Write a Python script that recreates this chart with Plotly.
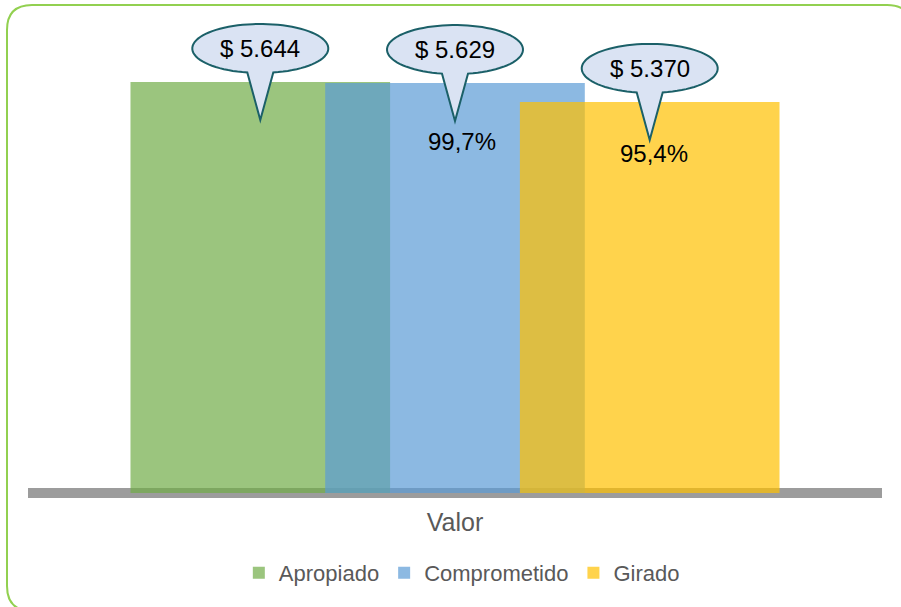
import numpy as np
import plotly.graph_objects as go

# ---- data ----
series = ["Apropiado", "Comprometido", "Girado"]
category = ["Valor"]
values = [5644, 5629, 5370]
pct_labels = [None, "99,7%", "95,4%"]

# ---- styles ----
colors = ["rgba(112,173,71,0.7)", "rgba(91,155,213,0.7)", "rgba(255,192,0,0.7)"]
bar_width = 0.304
centers = [-0.228, 0.0, 0.228]
bubble_fill = "#DAE3F3"
bubble_line = "#1B6068"
pct_shift = [(0, 0), (7, -58), (4, -52)]

FONT = "Liberation Sans, Arial, sans-serif"


def fmt_money(v):
    return "$ " + f"{v:,.0f}".replace(",", ".")


fig = go.Figure()
for name, val, col, c in zip(series, values, colors, centers):
    fig.add_trace(go.Bar(
        x=category, y=[val], name=name,
        width=bar_width, offset=c - bar_width / 2,
        marker=dict(color=col, line=dict(width=0)),
        hoverinfo="skip",
    ))

# speech-bubble geometry (pixels relative to bar top)
rx, ry, cy = 68, 24.5, 33.5
half_base, tip = 13, -38
base_y = cy - ry * np.sqrt(1 - (half_base / rx) ** 2)
a0 = np.arctan2((base_y - cy) / ry, half_base / rx)
a1 = np.arctan2((base_y - cy) / ry, -half_base / rx) + 2 * np.pi
angs = np.linspace(a0, a1, 80)
pts = [(rx * np.cos(a), cy + ry * np.sin(a)) for a in angs]
path = f"M0,{tip} L{half_base},{base_y:.2f} "
path += " ".join(f"L{x:.2f},{y:.2f}" for x, y in pts)
path += " Z"

shapes = []
annotations = []
for val, c, pl, (sx, sy) in zip(values, centers, pct_labels, pct_shift):
    shapes.append(dict(
        type="path", xref="x", yref="y", xsizemode="pixel", ysizemode="pixel",
        xanchor=c, yanchor=val, path=path,
        fillcolor=bubble_fill, line=dict(color=bubble_line, width=2),
        layer="above",
    ))
    annotations.append(dict(
        x=c, y=val, xref="x", yref="y", text=fmt_money(val), showarrow=False,
        yshift=cy, font=dict(family=FONT, size=24, color="#000000"),
    ))
    if pl:
        annotations.append(dict(
            x=c, y=val, xref="x", yref="y", text=pl, showarrow=False,
            xshift=sx, yshift=sy, font=dict(family=FONT, size=24, color="#000000"),
        ))

# rounded green frame (pixels relative to plot-area bottom-left corner)
L, R, T, B, r = -21, 884, 495, -111, 25
frame = (f"M{L + r},{T} L{R - r},{T} Q{R},{T} {R},{T - r} L{R},{B + r} Q{R},{B} {R - r},{B} "
         f"L{L + r},{B} Q{L},{B} {L},{B + r} L{L},{T - r} Q{L},{T} {L + r},{T} Z")
shapes.append(dict(
    type="path", xref="paper", yref="paper", xsizemode="pixel", ysizemode="pixel",
    xanchor=0, yanchor=0, path=frame, line=dict(color="#92D050", width=2),
    fillcolor="rgba(0,0,0,0)", layer="above",
))

fig.update_layout(
    width=901, height=607,
    margin=dict(l=28, r=19, t=20, b=107),
    paper_bgcolor="white", plot_bgcolor="white",
    barmode="overlay",
    showlegend=True,
    legend=dict(orientation="h", x=0.508, xanchor="center", y=-0.152, yanchor="middle",
                font=dict(family=FONT, size=22, color="#595959"),
                itemwidth=30, traceorder="normal"),
    xaxis=dict(type="category", range=[-0.5, 0.5], showgrid=False, showline=False,
               ticks="", tickfont=dict(family=FONT, size=25, color="#595959"),
               ticklabelstandoff=5, fixedrange=True),
    yaxis=dict(range=[-96, 6495], showgrid=False, showticklabels=False, ticks="",
               showline=False, zeroline=True, zerolinecolor="#9C9C9C", zerolinewidth=10,
               fixedrange=True),
    shapes=shapes,
    annotations=annotations,
)

fig.write_html("out.html", config={"displayModeBar": False},
               post_script="document.body.style.margin='0';")
